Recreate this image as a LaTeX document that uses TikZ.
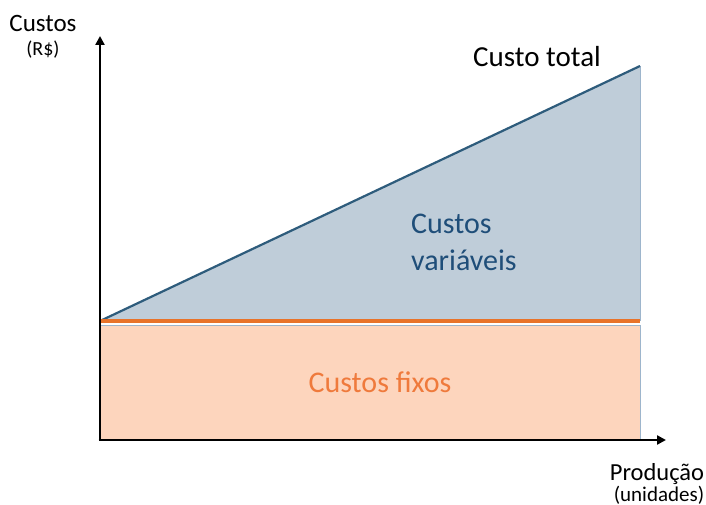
\documentclass[tikz,border=0pt]{standalone}
\usepackage{fontspec}
\setmainfont{Carlito}
\usetikzlibrary{arrows.meta}
\definecolor{varfill}{HTML}{BFCDD9}
\definecolor{varline}{HTML}{2E5C7C}
\definecolor{fixfill}{HTML}{FDD5BD}
\definecolor{fixline}{HTML}{E8732A}
\definecolor{vartext}{HTML}{1F4E79}
\definecolor{fixtext}{HTML}{EF7A3C}
\definecolor{edgeblue}{HTML}{9DB5CC}
\tikzset{
  axis/.style={line width=2.6pt, draw=black, -{Triangle[length=9pt,width=9pt]}},
  lbl/.style={inner sep=0pt, font=\fontsize{#1}{#1}\selectfont},
}
\begin{document}
\begin{tikzpicture}[x=1pt,y=-1pt]
\useasboundingbox (0,0) rectangle (706,505);
% corner coordinates
\coordinate (o) at (100,440);
\coordinate (fl) at (100,321);
\coordinate (fr) at (640,321);
\coordinate (tr) at (640,66);
\coordinate (yt) at (100,36);
\coordinate (xt) at (666,440);
% fixed costs
\fill[fixfill] (100,325) rectangle (640,440);
\draw[edgeblue, line width=0.8pt] (100,325) -- (640,325) -- (640,440);
% variable costs
\fill[varfill] (fl) -- (tr) -- (fr) -- cycle;
\draw[edgeblue, line width=1pt] (tr) -- (fr);
\draw[varline, line width=2.2pt] (fl) -- (tr);
\draw[fixline, line width=3.2pt] (fl) -- (fr);
% axes
\draw[axis] (o) -- (yt);
\draw[axis] ([xshift=-1.3pt]o) -- (xt);
% labels
\node[lbl=25, anchor=base] (cy) at (43,32) {Custos};
\node[lbl=20, anchor=base] (ry) at (43,56) {(R\$)};
\node[lbl=29, anchor=base] (ct) at (537,67) {Custo total};
\node[lbl=30, text=vartext, anchor=base west] (cv1) at (411,233) {Custos};
\node[lbl=30, text=vartext, anchor=base west] (cv2) at (411,270) {variáveis};
\node[lbl=30, text=fixtext] (cf) at (380,382) {Custos fixos};
\node[lbl=24.5, anchor=base] (px) at (657,480) {Produção};
\node[lbl=21, anchor=base] (ux) at (659,501) {(unidades)};
\end{tikzpicture}
\end{document}
